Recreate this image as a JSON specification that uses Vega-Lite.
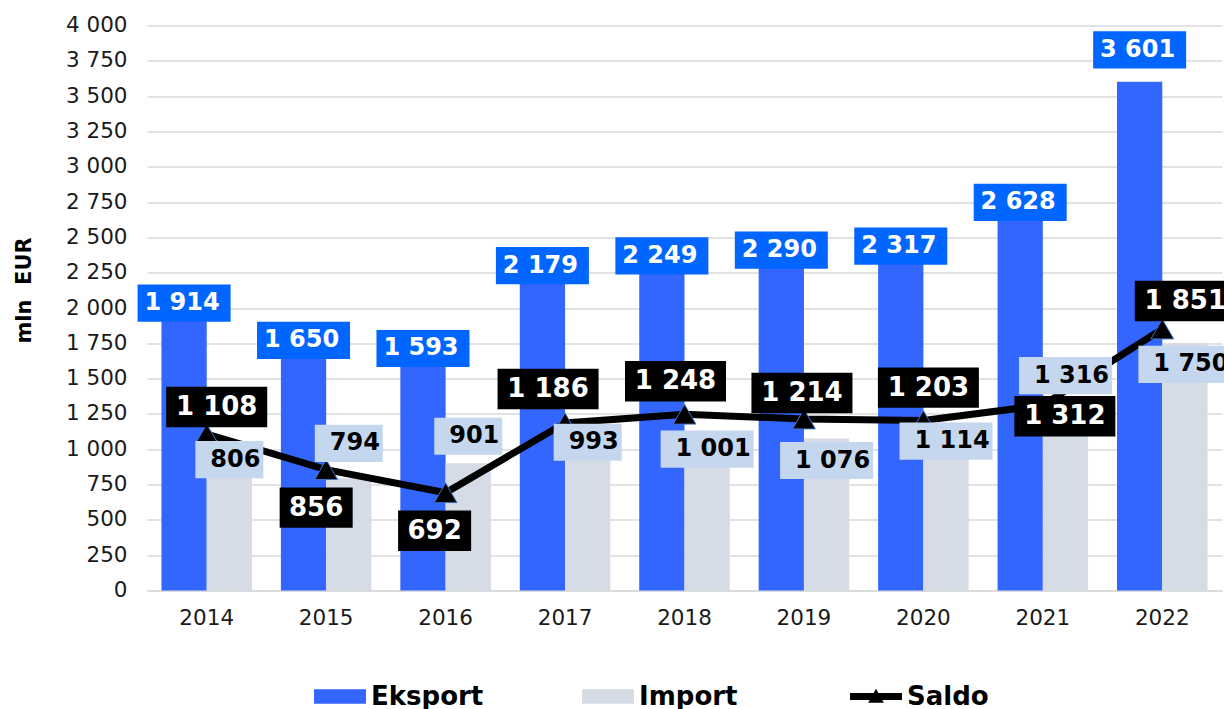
{
  "$schema": "https://vega.github.io/schema/vega-lite/v6.json",
  "width": 1075,
  "height": 565,
  "autosize": {"type": "none"},
  "padding": {"left": 147, "top": 25.5, "right": 2, "bottom": 118.5},
  "background": "white",
  "config": {
    "view": {"stroke": null},
    "font": "DejaVu Sans",
    "locale": {"number": {"decimal": ",", "thousands": " ", "grouping": [3], "currency": ["", " €"]}},
    "axis": {"labelFont": "DejaVu Sans", "titleFont": "DejaVu Sans"}
  },
  "data": {
    "values": [
      {"year": 2014, "series": "Eksport", "value": 1914},
      {"year": 2015, "series": "Eksport", "value": 1650},
      {"year": 2016, "series": "Eksport", "value": 1593},
      {"year": 2017, "series": "Eksport", "value": 2179},
      {"year": 2018, "series": "Eksport", "value": 2249},
      {"year": 2019, "series": "Eksport", "value": 2290},
      {"year": 2020, "series": "Eksport", "value": 2317},
      {"year": 2021, "series": "Eksport", "value": 2628},
      {"year": 2022, "series": "Eksport", "value": 3601},
      {"year": 2014, "series": "Import", "value": 806},
      {"year": 2015, "series": "Import", "value": 794},
      {"year": 2016, "series": "Import", "value": 901},
      {"year": 2017, "series": "Import", "value": 993},
      {"year": 2018, "series": "Import", "value": 1001},
      {"year": 2019, "series": "Import", "value": 1076},
      {"year": 2020, "series": "Import", "value": 1114},
      {"year": 2021, "series": "Import", "value": 1316},
      {"year": 2022, "series": "Import", "value": 1750},
      {"year": 2014, "series": "Saldo", "value": 1108},
      {"year": 2015, "series": "Saldo", "value": 856},
      {"year": 2016, "series": "Saldo", "value": 692},
      {"year": 2017, "series": "Saldo", "value": 1186},
      {"year": 2018, "series": "Saldo", "value": 1248},
      {"year": 2019, "series": "Saldo", "value": 1214},
      {"year": 2020, "series": "Saldo", "value": 1203},
      {"year": 2021, "series": "Saldo", "value": 1312},
      {"year": 2022, "series": "Saldo", "value": 1851}
    ]
  },
  "encoding": {
    "x": {
      "field": "year", "type": "ordinal",
      "scale": {"paddingInner": 0.242, "paddingOuter": 0.121},
      "axis": {"title": null, "labelAngle": 0, "labelFontSize": 21.5, "labelColor": "#1a1a1a", "ticks": false, "labelPadding": 17, "domainColor": "#D9D9D9", "domainWidth": 1.5, "grid": false}
    },
    "y": {
      "field": "value", "type": "quantitative",
      "scale": {"domain": [0, 4000], "nice": false},
      "axis": {"values": [0,250,500,750,1000,1250,1500,1750,2000,2250,2500,2750,3000,3250,3500,3750,4000], "title": "mln\u00a0\u00a0EUR", "titleFontSize": 21, "titleFontWeight": "bold", "titleColor": "#000000", "titleX": -123, "titleY": 264.5, "titleAlign": "center", "titleBaseline": "middle", "labelFontSize": 21.5, "labelColor": "#1a1a1a", "ticks": false, "domain": false, "labelPadding": 20, "gridColor": "#D9D9D9", "gridWidth": 1.5}
    }
  },
  "layer": [
    {
      "transform": [{"filter": "datum.series != 'Saldo'"}],
      "mark": {"type": "bar"},
      "encoding": {
        "xOffset": {"field": "series", "type": "nominal", "scale": {"domain": ["Eksport", "Import"], "paddingInner": 0, "paddingOuter": 0}},
        "color": {
          "field": "series", "type": "nominal",
          "scale": {"domain": ["Eksport", "Import", "Saldo"], "range": ["#3366FF", "#D6DCE5", "#000000"]},
          "legend": {
            "title": null, "orient": "none", "legendX": 167, "legendY": 645, "direction": "horizontal", "columns": 3,
            "gridAlign": "all", "columnPadding": 98, "padding": 0,
            "labelFont": "DejaVu Sans", "labelFontSize": 26, "labelFontWeight": "bold", "labelColor": "#000000", "labelOffset": 5, "labelLimit": 300,
            "symbolSize": 2704, "symbolStrokeWidth": 0,
            "encode": {"symbols": {"update": {
              "shape": {"signal": "datum.value == 'Saldo' ? 'M-1,-0.13H1V0.13H-1Z M-0.3,0.24L0,-0.3L0.3,0.24Z' : 'M-1,-0.28H1V0.28H-1Z'"},
              "fill": {"scale": "color", "field": "value"},
              "fillOpacity": {"value": 1},
              "strokeWidth": {"value": 0},
              "size": {"value": 2704}
            }}}
          }
        }
      }
    },
    {
      "transform": [{"filter": "datum.series == 'Saldo'"}],
      "mark": {"type": "line", "strokeWidth": 7},
      "encoding": {
        "color": {"field": "series", "type": "nominal"}
      }
    },
    {
      "transform": [{"filter": "datum.series == 'Saldo'"}],
      "mark": {"type": "point", "shape": "triangle-up", "filled": true, "fill": "#000000", "stroke": "#4472C4", "strokeWidth": 1, "opacity": 1, "size": 520}
    },
    {
      "transform": [{"filter": "datum.series == 'Import'"}],
      "mark": {"type": "point", "filled": true, "fill": "#C5D7EF", "opacity": 1, "size": 8649, "xOffset": 6,
        "yOffset": {"expr": "[-17,-35,-27,-8,0,22,8,-29,21][datum.year-2014]"}},
      "encoding": {
        "xOffset": {"field": "series", "type": "nominal"},
        "shape": {"condition": {"test": "datum.value >= 1000", "value": "M-1,-0.4H1V0.4H-1Z"}, "value": "M-0.731,-0.4H0.731V0.4H-0.731Z"}
      }
    },
    {
      "transform": [{"filter": "datum.series == 'Import'"}],
      "mark": {"type": "text", "font": "DejaVu Sans", "fontSize": 24, "fontWeight": "bold", "fill": "#000000", "baseline": "middle", "align": "center", "dx": 6,
        "dy": {"expr": "[-17,-35,-27,-8,0,22,8,-29,21][datum.year-2014]"}},
      "encoding": {
        "xOffset": {"field": "series", "type": "nominal"},
        "text": {"field": "value", "type": "quantitative", "format": ","}
      }
    },
    {
      "transform": [{"filter": "datum.series == 'Eksport'"}],
      "mark": {"type": "point", "filled": true, "fill": "#0066FF", "opacity": 1, "size": 8649, "shape": "M-1,-0.4H1V0.4H-1Z",
        "xOffset": -2,
        "yOffset": {"expr": "datum.year == 2022 ? -32 : -17"}},
      "encoding": {
        "xOffset": {"field": "series", "type": "nominal"}
      }
    },
    {
      "transform": [{"filter": "datum.series == 'Eksport'"}],
      "mark": {"type": "text", "font": "DejaVu Sans", "fontSize": 24, "fontWeight": "bold", "fill": "#FFFFFF", "baseline": "middle", "align": "center", "dx": -2,
        "dy": {"expr": "datum.year == 2022 ? -32 : -17"}},
      "encoding": {
        "xOffset": {"field": "series", "type": "nominal"},
        "text": {"field": "value", "type": "quantitative", "format": ","}
      }
    },
    {
      "transform": [{"filter": "datum.series == 'Saldo'"}],
      "mark": {"type": "point", "filled": true, "fill": "#000000", "opacity": 1, "size": 10201,
        "xOffset": {"expr": "[10,-10,-11,-17,-9,-2,5,22,23][datum.year-2014]"},
        "yOffset": {"expr": "[-27,38,38,-34,-33,-26,-33,11,-28][datum.year-2014]"}},
      "encoding": {
        "shape": {"condition": {"test": "datum.value >= 1000", "value": "M-1,-0.4H1V0.4H-1Z"}, "value": "M-0.723,-0.4H0.723V0.4H-0.723Z"}
      }
    },
    {
      "transform": [{"filter": "datum.series == 'Saldo'"}],
      "mark": {"type": "text", "font": "DejaVu Sans", "fontSize": 26, "fontWeight": "bold", "fill": "#FFFFFF", "baseline": "middle", "align": "center",
        "dx": {"expr": "[10,-10,-11,-17,-9,-2,5,22,23][datum.year-2014]"},
        "dy": {"expr": "[-27,38,38,-34,-33,-26,-33,11,-28][datum.year-2014]"}},
      "encoding": {
        "text": {"field": "value", "type": "quantitative", "format": ","}
      }
    }
  ]
}
